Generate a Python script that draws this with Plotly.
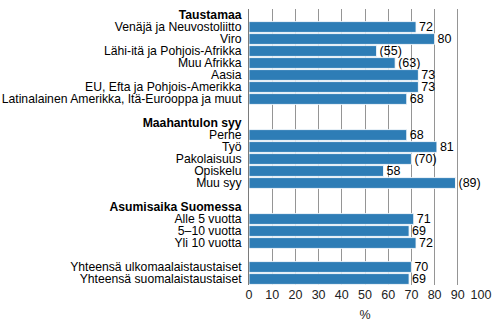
import plotly.graph_objects as go

labels = [
    "<b>Taustamaa</b>",
    "Venäjä ja Neuvostoliitto",
    "Viro",
    "Lähi-itä ja Pohjois-Afrikka",
    "Muu Afrikka",
    "Aasia",
    "EU, Efta ja Pohjois-Amerikka",
    "Latinalainen Amerikka, Itä-Eurooppa ja muut",
    "",
    "<b>Maahantulon syy</b>",
    "Perhe",
    "Työ",
    "Pakolaisuus",
    "Opiskelu",
    "Muu syy",
    "",
    "<b>Asumisaika Suomessa</b>",
    "Alle 5 vuotta",
    "5–10 vuotta",
    "Yli 10 vuotta",
    "",
    "Yhteensä ulkomaalaistaustaiset",
    "Yhteensä suomalaistaustaiset",
]
values = [None, 72, 80, 55, 63, 73, 73, 68,
          None,
          None, 68, 81, 70, 58, 89,
          None,
          None, 71, 69, 72,
          None,
          70, 69]
value_text = ["", "72", "80", "(55)", "(63)", "73", "73", "68",
              "",
              "", "68", "81", "(70)", "58", "(89)",
              "",
              "", "71", "69", "72",
              "",
              "70", "69"]
x_ticks = [0, 10, 20, 30, 40, 50, 60, 70, 80, 90, 100]

positions = list(range(len(labels)))

fig = go.Figure(go.Bar(
    x=values,
    y=positions,
    orientation="h",
    text=value_text,
    textposition="outside",
    constraintext="none",
    textfont=dict(size=12.5, color="#000000", family="Liberation Sans, Arial, sans-serif"),
    cliponaxis=False,
    marker=dict(color="#2e7db6", line=dict(color="rgba(255,255,255,0.85)", width=1)),
    hoverinfo="skip",
))

fig.update_layout(
    width=500, height=325,
    margin=dict(l=249, r=19, t=9, b=40, autoexpand=False),
    paper_bgcolor="white", plot_bgcolor="white",
    bargap=0.1,
    showlegend=False,
    font=dict(family="Liberation Sans, Arial, sans-serif", size=12, color="#000000"),
    xaxis=dict(
        range=[0, 100],
        tickvals=x_ticks,
        ticktext=[str(t) for t in x_ticks],
        showgrid=True, gridcolor="#959595", gridwidth=1,
        zeroline=False,
        showline=False,
        ticks="",
        automargin=False,
        tickfont=dict(size=12.5, color="#222222"),
        title=dict(text="%", font=dict(size=12.5, color="#222222"), standoff=9),
        fixedrange=True,
    ),
    yaxis=dict(
        range=[len(labels) - 0.5, -0.5],
        tickvals=positions,
        ticktext=labels,
        showgrid=False,
        zeroline=False,
        showline=True, linecolor="#7a7a7a", linewidth=1,
        ticks="",
        automargin=False,
        ticklabelstandoff=4,
        tickfont=dict(size=12.2, color="#000000"),
        fixedrange=True,
    ),
)

fig.write_html("out.html")
